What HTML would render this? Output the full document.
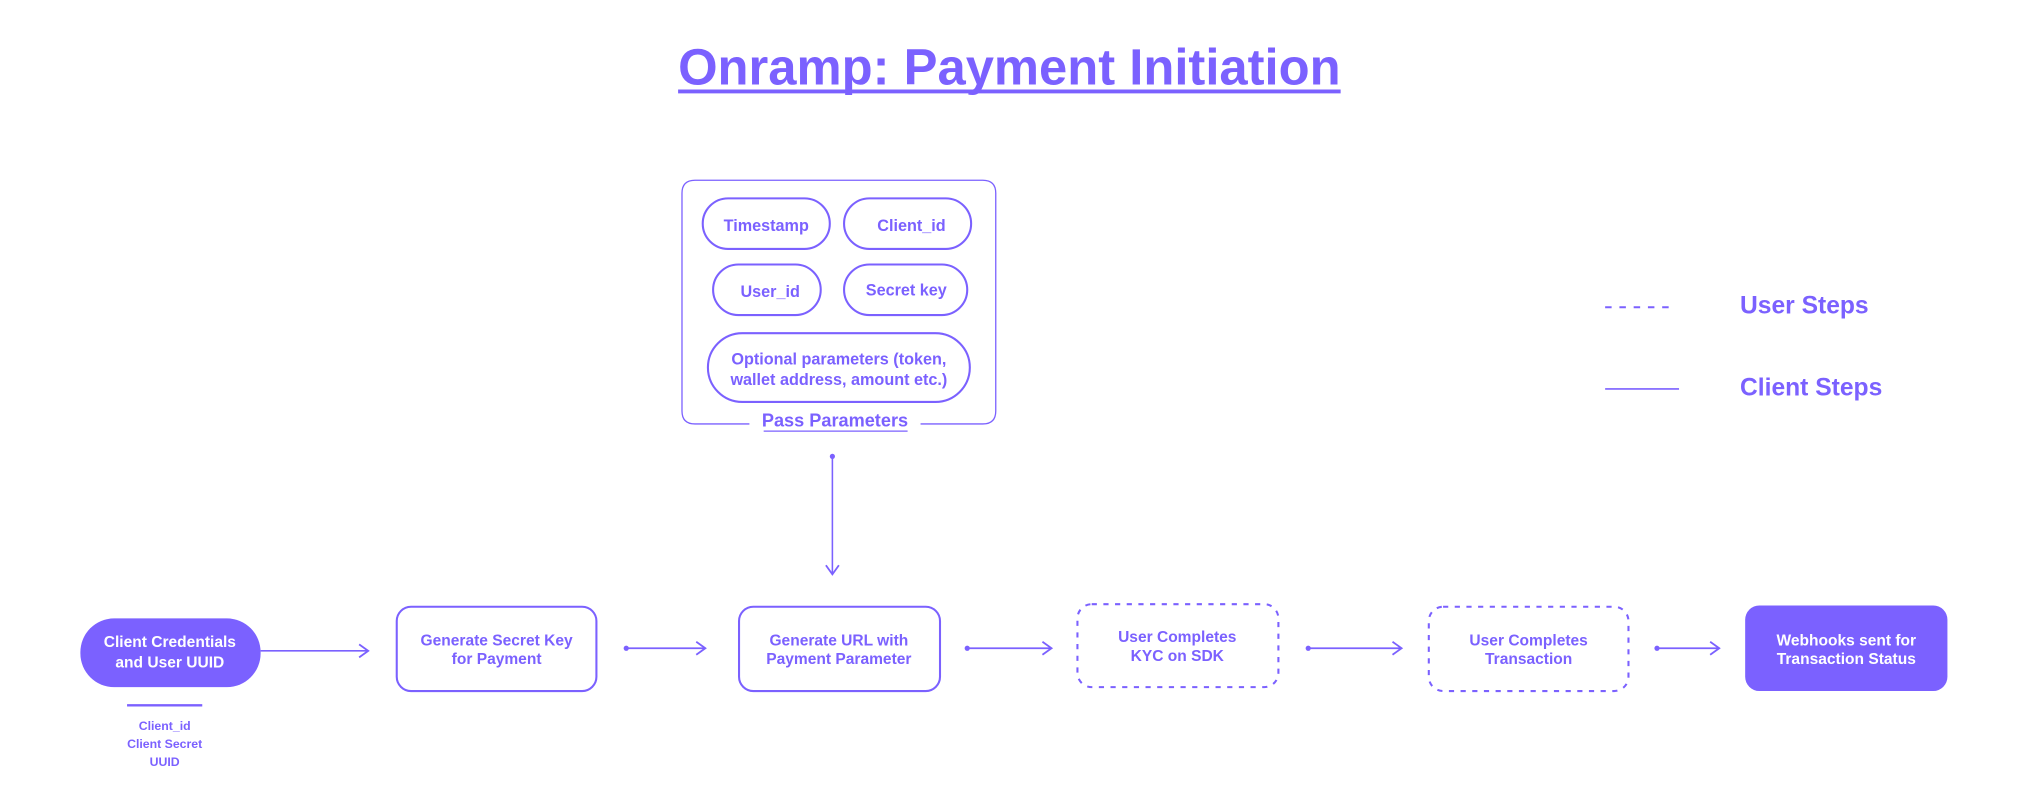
<!DOCTYPE html>
<html><head><meta charset="utf-8"><style>
html,body{margin:0;padding:0;background:#fff;width:2033px;height:812px;overflow:hidden}
svg{display:block}
text{font-family:"Liberation Sans",sans-serif;font-weight:bold;fill:#7B61FF;text-anchor:middle}
</style></head><body>
<svg width="2033" height="812" viewBox="0 0 1568 626.3" preserveAspectRatio="none">
<defs><marker id="a" markerWidth="10" markerHeight="12" refX="8" refY="6" orient="auto" markerUnits="userSpaceOnUse"><path d="M1,1 L8,6 L1,11" fill="none" stroke="#7B61FF" stroke-width="1.4"/></marker></defs>
<g stroke="#7B61FF" fill="none" stroke-width="1.6">
<text x="523" y="65" font-size="39" stroke="none" style="text-anchor:start" textLength="511" lengthAdjust="spacingAndGlyphs">Onramp: Payment Initiation</text>
<line x1="523" y1="70.5" x2="1034" y2="70.5" stroke-width="3"/>
<path d="M578,327 H536 Q526,327 526,317 V149 Q526,139 536,139 H758 Q768,139 768,149 V317 Q768,327 758,327 H710" stroke-width="1"/>
<rect x="542" y="153" width="98" height="39" rx="19.5"/>
<rect x="651" y="153" width="98" height="39" rx="19.5"/>
<rect x="550" y="204" width="83" height="39" rx="19.5"/>
<rect x="651" y="204" width="95" height="39" rx="19.5"/>
<rect x="546" y="257" width="202" height="53" rx="26.5"/>
<text x="591" y="178" font-size="12.5" stroke="none">Timestamp</text>
<text x="703" y="178" font-size="12.5" stroke="none">Client_id</text>
<text x="594" y="229" font-size="12.5" stroke="none">User_id</text>
<text x="699" y="228" font-size="12.5" stroke="none">Secret key</text>
<text x="647" y="281" font-size="12.5" stroke="none">Optional parameters (token,</text>
<text x="647" y="297" font-size="12.5" stroke="none">wallet address, amount etc.)</text>
<text x="644" y="329" font-size="14" stroke="none">Pass Parameters</text>
<line x1="589" y1="332.5" x2="700" y2="332.5" stroke-width="1"/>
<circle cx="642" cy="352" r="2" fill="#7B61FF" stroke="none"/>
<line x1="642" y1="352" x2="642" y2="443" stroke-width="1.2" marker-end="url(#a)"/>
<line x1="1238" y1="237" x2="1293" y2="237" stroke-dasharray="5,6" stroke-width="1.5"/>
<line x1="1238" y1="300" x2="1295" y2="300" stroke-width="1.3"/>
<text x="1342" y="242" font-size="19" stroke="none" style="text-anchor:start">User Steps</text>
<text x="1342" y="305" font-size="19" stroke="none" style="text-anchor:start">Client Steps</text>
<rect x="62" y="477" width="139" height="53" rx="26" fill="#7B61FF" stroke="none"/>
<rect x="306" y="468" width="154" height="65" rx="11"/>
<rect x="570" y="468" width="155" height="65" rx="11"/>
<rect x="831" y="466" width="155" height="64" rx="11" stroke-dasharray="4,5"/>
<rect x="1102" y="468" width="154" height="65" rx="11" stroke-dasharray="4,5"/>
<rect x="1346" y="467" width="156" height="66" rx="11" fill="#7B61FF" stroke="none"/>
<g font-size="12" stroke="none">
<text x="131" y="499" style="fill:#fff">Client Credentials</text>
<text x="131" y="515" style="fill:#fff">and User UUID</text>
<text x="383" y="498">Generate Secret Key</text>
<text x="383" y="512">for Payment</text>
<text x="647" y="498">Generate URL with</text>
<text x="647" y="512">Payment Parameter</text>
<text x="908" y="495">User Completes</text>
<text x="908" y="510">KYC on SDK</text>
<text x="1179" y="498">User Completes</text>
<text x="1179" y="512">Transaction</text>
<text x="1424" y="498" style="fill:#fff">Webhooks sent for</text>
<text x="1424" y="512" style="fill:#fff">Transaction Status</text>
</g>
<line x1="201" y1="502" x2="284" y2="502" stroke-width="1.3" marker-end="url(#a)"/>
<line x1="483" y1="500" x2="544" y2="500" stroke-width="1.3" marker-end="url(#a)"/>
<line x1="746" y1="500" x2="811" y2="500" stroke-width="1.3" marker-end="url(#a)"/>
<line x1="1009" y1="500" x2="1081" y2="500" stroke-width="1.3" marker-end="url(#a)"/>
<line x1="1278" y1="500" x2="1326" y2="500" stroke-width="1.3" marker-end="url(#a)"/>
<g fill="#7B61FF" stroke="none">
<circle cx="483" cy="500" r="2"/><circle cx="746" cy="500" r="2"/><circle cx="1009" cy="500" r="2"/><circle cx="1278" cy="500" r="2"/>
</g>
<line x1="98" y1="544" x2="156" y2="544" stroke-width="1.8"/>
<g font-size="9.5" stroke="none">
<text x="127" y="563">Client_id</text>
<text x="127" y="577">Client Secret</text>
<text x="127" y="591">UUID</text>
</g>
</g>
</svg>
</body></html>
